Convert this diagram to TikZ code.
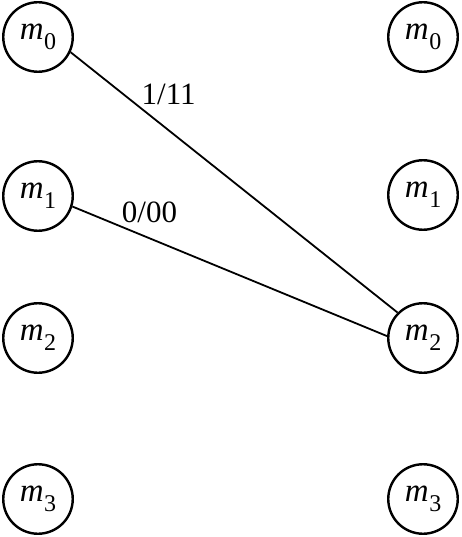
\documentclass[tikz,border=0pt]{standalone}
\usepackage{fontspec}
\setmainfont{Liberation Serif}
\newcommand{\mlab}[1]{\textit{m}\kern0.02em\raisebox{-0.3em}{\fontsize{24}{28}\selectfont #1}}
\tikzset{
  state/.style={circle, draw, line width=2.4pt, minimum size=69.5pt, inner sep=0pt,
    font=\fontsize{33}{40}\selectfont},
  conn/.style={line width=1.8pt},
  lab/.style={font=\fontsize{31}{38}\selectfont, inner sep=0pt}
}
\begin{document}
\begin{tikzpicture}[x=1pt,y=-1pt]
\useasboundingbox (0,0) rectangle (461,537);
\node[state] (l0) at (38,37) {\mlab{0}};
\node[state] (l1) at (38,196) {\mlab{1}};
\node[state] (l2) at (38,338) {\mlab{2}};
\node[state] (l3) at (38,499) {\mlab{3}};
\node[state] (r0) at (423,37) {\mlab{0}};
\node[state] (r1) at (423,195) {\mlab{1}};
\node[state] (r2) at (423,338) {\mlab{2}};
\node[state] (r3) at (423,499) {\mlab{3}};
\draw[conn] (l0.-25) -- node[lab, pos=0.3, yshift=36pt] {1/11} (r2.135);
\draw[conn] (l1.-17) -- node[lab, pos=0.245, yshift=26pt] {0/00} (r2.177);
\end{tikzpicture}
\end{document}
